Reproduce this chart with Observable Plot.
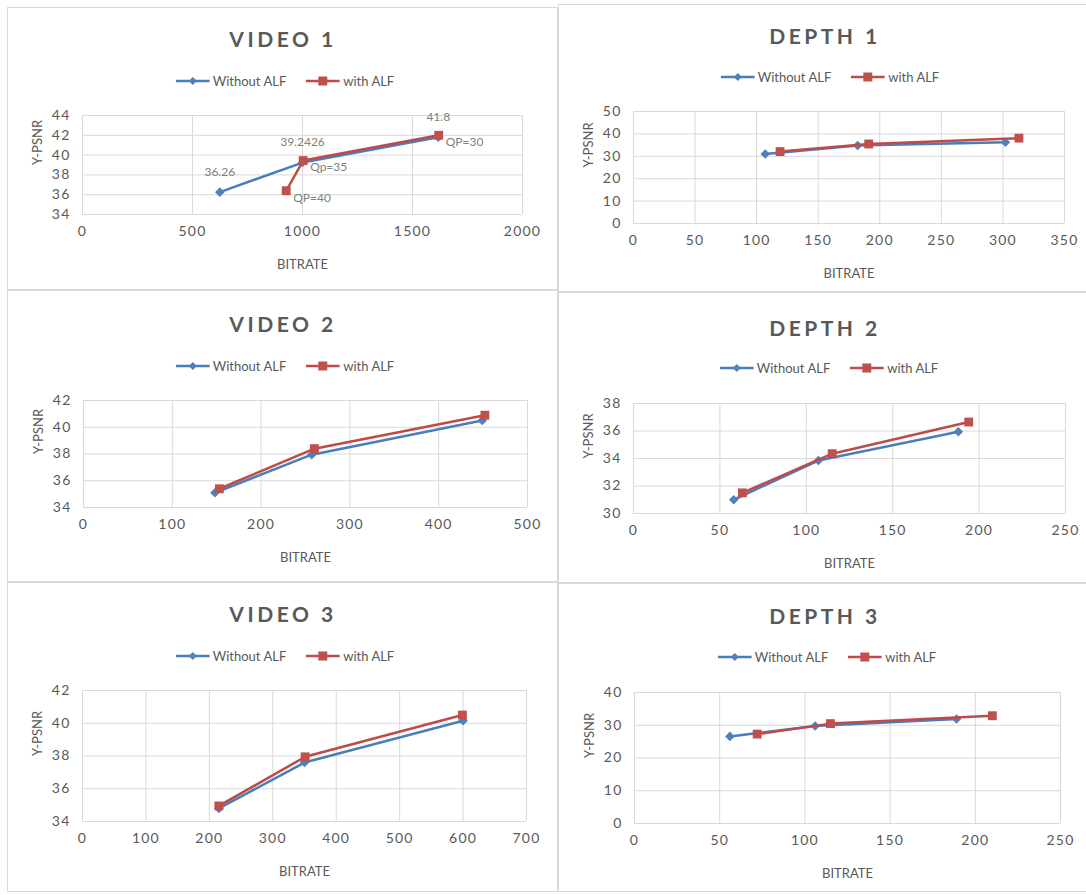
<!DOCTYPE html>
<html><head><meta charset="utf-8">
<script src="https://cdn.jsdelivr.net/npm/d3@7"></script>
<script src="https://cdn.jsdelivr.net/npm/@observablehq/plot@0.6"></script>
<style>
body{margin:0;background:#fff;}
#root{position:relative;width:1086px;height:895px;overflow:hidden;font-family:Lato,"Open Sans",sans-serif;background:#fff;}
.panel{position:absolute;border:1px solid #d9d9d9;box-sizing:border-box;}
.title{position:absolute;transform:translate(-50%,-50%);font-weight:bold;font-size:21px;letter-spacing:3.5px;color:#595959;white-space:nowrap;}
.legend{position:absolute;display:flex;align-items:center;transform:translate(-50%,-50%);font-size:13px;color:#595959;white-space:nowrap;}
.legend .item{display:flex;align-items:center;}
.legend .item + .item{margin-left:20px;}
.legend svg{margin-right:3px;}
svg.plot{position:absolute;}
svg.plot g[aria-label="x-axis tick label"] text, svg.plot g[aria-label="y-axis tick label"] text{letter-spacing:1.2px;}
</style></head>
<body><div id="root"></div>
<script>
// ---------- data ----------
const seriesNames = ["Without ALF", "with ALF"];
const xTitle = "BITRATE";
const yTitle = "Y-PSNR";
const chartTitles = ["VIDEO 1", "DEPTH 1", "VIDEO 2", "DEPTH 2", "VIDEO 3", "DEPTH 3"];

const v1WithoutBitrate = [624, 1000, 1617];
const v1WithoutPSNR = [36.26, 39.2426, 41.8];
const v1WithBitrate = [926, 1003, 1619];
const v1WithPSNR = [36.4, 39.45, 42.0];
const v1ValueLabels = ["36.26", "39.2426", "41.8"];
const v1QpLabels = ["QP=40", "Qp=35", "QP=30"];

const d1WithoutBitrate = [107, 182, 302];
const d1WithoutPSNR = [31.0, 34.8, 36.3];
const d1WithBitrate = [119, 191, 313];
const d1WithPSNR = [32.1, 35.5, 38.1];

const v2WithoutBitrate = [148, 257, 449];
const v2WithoutPSNR = [35.1, 37.95, 40.5];
const v2WithBitrate = [153, 260, 452];
const v2WithPSNR = [35.4, 38.4, 40.9];

const d2WithoutBitrate = [58, 107, 188];
const d2WithoutPSNR = [31.0, 33.85, 35.95];
const d2WithBitrate = [63, 115, 194];
const d2WithPSNR = [31.5, 34.35, 36.65];

const v3WithoutBitrate = [215, 350, 600];
const v3WithoutPSNR = [34.8, 37.6, 40.15];
const v3WithBitrate = [215, 351, 599];
const v3WithPSNR = [34.95, 37.95, 40.5];

const d3WithoutBitrate = [56, 106, 189];
const d3WithoutPSNR = [26.6, 29.8, 31.9];
const d3WithBitrate = [72, 115, 210];
const d3WithPSNR = [27.3, 30.5, 32.9];

const v1XTicks = [0, 500, 1000, 1500, 2000];
const v1YTicks = [34, 36, 38, 40, 42, 44];
const d1XTicks = [0, 50, 100, 150, 200, 250, 300, 350];
const d1YTicks = [0, 10, 20, 30, 40, 50];
const v2XTicks = [0, 100, 200, 300, 400, 500];
const v2YTicks = [34, 36, 38, 40, 42];
const d2XTicks = [0, 50, 100, 150, 200, 250];
const d2YTicks = [30, 32, 34, 36, 38];
const v3XTicks = [0, 100, 200, 300, 400, 500, 600, 700];
const v3YTicks = [34, 36, 38, 40, 42];
const d3XTicks = [0, 50, 100, 150, 200, 250];
const d3YTicks = [0, 10, 20, 30, 40];

// ---------- styles / layout ----------
const lineColors = ["#4A7EBB", "#BE4B48"];
const markColors = ["#4F81BD", "#C0504D"];
const textColor = "#595959";

const layout = [
  {panel:[7,7,551,283],    plot:[82,115,522,214],  title:[283,38],  legend:[285,81]},
  {panel:[558,4,530,288],  plot:[633,111,1064,223], title:[825,35], legend:[830,77]},
  {panel:[7,290,551,292],  plot:[83,400,527,507],  title:[283,323], legend:[285,366]},
  {panel:[558,292,530,291],plot:[633,403,1065,513], title:[825,327],legend:[829,368]},
  {panel:[7,582,551,310],  plot:[82,690,526,821],  title:[283,613], legend:[285,656]},
  {panel:[558,583,530,309],plot:[634,692,1060,823], title:[825,615],legend:[827,657]}
];

const charts = [
  {wb:v1WithoutBitrate, wp:v1WithoutPSNR, ab:v1WithBitrate, ap:v1WithPSNR, xt:v1XTicks, yt:v1YTicks, valueLabels:v1ValueLabels, qpLabels:v1QpLabels},
  {wb:d1WithoutBitrate, wp:d1WithoutPSNR, ab:d1WithBitrate, ap:d1WithPSNR, xt:d1XTicks, yt:d1YTicks},
  {wb:v2WithoutBitrate, wp:v2WithoutPSNR, ab:v2WithBitrate, ap:v2WithPSNR, xt:v2XTicks, yt:v2YTicks},
  {wb:d2WithoutBitrate, wp:d2WithoutPSNR, ab:d2WithBitrate, ap:d2WithPSNR, xt:d2XTicks, yt:d2YTicks},
  {wb:v3WithoutBitrate, wp:v3WithoutPSNR, ab:v3WithBitrate, ap:v3WithPSNR, xt:v3XTicks, yt:v3YTicks},
  {wb:d3WithoutBitrate, wp:d3WithoutPSNR, ab:d3WithBitrate, ap:d3WithPSNR, xt:d3XTicks, yt:d3YTicks}
];

const root = document.getElementById("root");

function swatch(i) {
  const ns = "http://www.w3.org/2000/svg";
  const s = document.createElementNS(ns, "svg");
  s.setAttribute("width", 34); s.setAttribute("height", 12);
  const l = document.createElementNS(ns, "line");
  l.setAttribute("x1", 0); l.setAttribute("x2", 34); l.setAttribute("y1", 6); l.setAttribute("y2", 6);
  l.setAttribute("stroke", lineColors[i]); l.setAttribute("stroke-width", 2.5);
  s.appendChild(l);
  const m = document.createElementNS(ns, "path");
  m.setAttribute("d", i === 0 ? "M17,2L21,6L17,10L13,6Z" : "M12.5,1.5H21.5V10.5H12.5Z");
  m.setAttribute("fill", markColors[i]);
  s.appendChild(m);
  return s;
}

charts.forEach((c, k) => {
  const L = layout[k];
  const [px, py, pw, ph] = L.panel;
  const [x0, y0, x1, y1] = L.plot;

  const box = document.createElement("div");
  box.className = "panel";
  Object.assign(box.style, {left: px + "px", top: py + "px", width: pw + "px", height: ph + "px"});
  root.appendChild(box);

  const without = c.wb.map((b, i) => ({series: seriesNames[0], bitrate: b, psnr: c.wp[i], label: c.valueLabels ? c.valueLabels[i] : null}));
  const withA = c.ab.map((b, i) => ({series: seriesNames[1], bitrate: b, psnr: c.ap[i], label: c.qpLabels ? c.qpLabels[i] : null}));

  const marks = [
    Plot.gridX(c.xt, {stroke: "#d9d9d9", strokeOpacity: 1}),
    Plot.gridY(c.yt, {stroke: "#d9d9d9", strokeOpacity: 1}),
    Plot.axisX(c.xt, {tickSize: 0, tickPadding: 12, fill: textColor, fontSize: 14, label: null, tickFormat: d => String(d)}),
    Plot.axisY(c.yt, {tickSize: 0, tickPadding: 12, fill: textColor, fontSize: 14, label: null, tickFormat: d => String(d)}),
    Plot.line(without, {x: "bitrate", y: "psnr", stroke: lineColors[0], strokeWidth: 2.5}),
    Plot.dot(without, {x: "bitrate", y: "psnr", symbol: "diamond2", r: 4.3, fill: markColors[0], stroke: "none"}),
    Plot.line(withA, {x: "bitrate", y: "psnr", stroke: lineColors[1], strokeWidth: 2.5}),
    Plot.dot(withA, {x: "bitrate", y: "psnr", symbol: "square", r: 5, fill: markColors[1], stroke: "none"}),
    Plot.text([xTitle], {frameAnchor: "bottom", dy: 54, fill: textColor, fontSize: 13}),
    Plot.text([yTitle], {frameAnchor: "left", rotate: -90, dx: -45, fill: textColor, fontSize: 13})
  ];
  if (c.valueLabels) {
    marks.push(Plot.text(without, {x: "bitrate", y: "psnr", text: "label", dy: -20, fill: "#7f7f7f", fontSize: 12}));
    marks.push(Plot.text(withA, {x: "bitrate", y: "psnr", text: "label", textAnchor: "start", dx: 7, dy: 7, fill: "#7f7f7f", fontSize: 12}));
  }

  const svg = Plot.plot({
    width: pw, height: ph,
    marginLeft: x0 - px, marginRight: px + pw - x1,
    marginTop: y0 - py, marginBottom: py + ph - y1,
    x: {domain: [c.xt[0], c.xt[c.xt.length - 1]]},
    y: {domain: [c.yt[0], c.yt[c.yt.length - 1]]},
    style: {background: "transparent", fontFamily: "Lato, 'Open Sans', sans-serif", color: textColor, overflow: "visible"},
    marks
  });
  svg.classList.add("plot");
  Object.assign(svg.style, {left: px + "px", top: py + "px"});
  root.appendChild(svg);

  const t = document.createElement("div");
  t.className = "title";
  t.textContent = chartTitles[k];
  Object.assign(t.style, {left: L.title[0] + "px", top: L.title[1] + "px"});
  root.appendChild(t);

  const lg = document.createElement("div");
  lg.className = "legend";
  Object.assign(lg.style, {left: L.legend[0] + "px", top: L.legend[1] + "px"});
  seriesNames.forEach((n, i) => {
    const it = document.createElement("div");
    it.className = "item";
    it.appendChild(swatch(i));
    const sp = document.createElement("span");
    sp.textContent = n;
    it.appendChild(sp);
    lg.appendChild(it);
  });
  root.appendChild(lg);
});
</script>
</body></html>
